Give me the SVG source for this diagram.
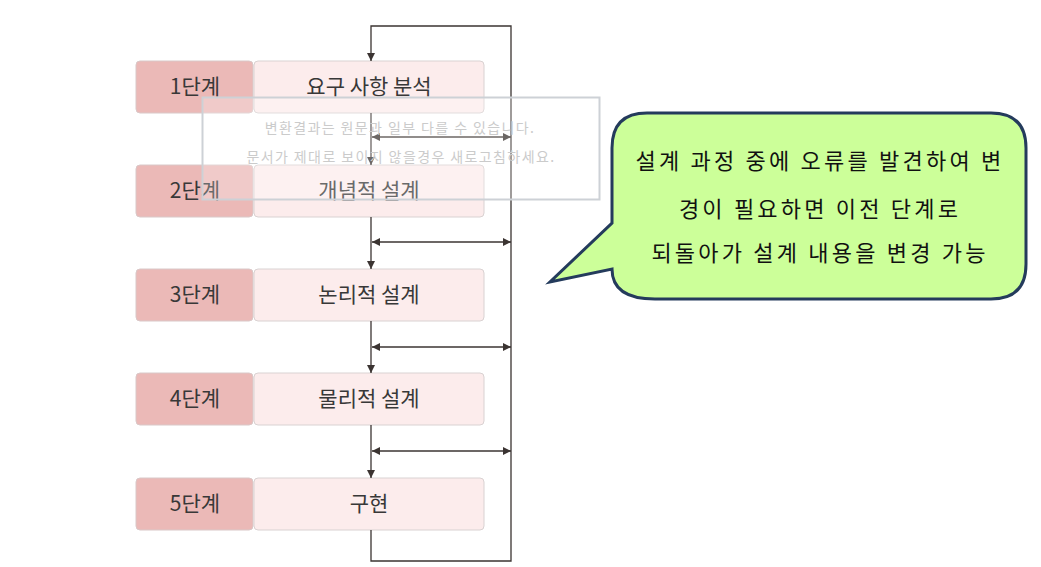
<svg xmlns="http://www.w3.org/2000/svg" width="1041" height="567" viewBox="0 0 1041 567">
<style>
.lbl{fill:#ebb9b7;stroke:#d9c8c8;stroke-width:1}
.box{fill:#fcecec;stroke:#d9d2d2;stroke-width:1}
.t{font-family:"Noto Sans CJK KR","Noto Sans",sans-serif;font-size:21px;fill:#383838;text-anchor:middle}
.c{fill:none;stroke:#3b3432;stroke-width:1.3}
.wm{font-family:"Noto Sans CJK KR","Noto Sans",sans-serif;font-size:14px;fill:#cbcbcb;text-anchor:middle;letter-spacing:1.4px}
.call{font-family:"Noto Sans CJK KR","Noto Sans",sans-serif;font-size:22px;fill:#111;text-anchor:middle;letter-spacing:3.2px}
</style>
<defs>
<marker id="ah" markerUnits="userSpaceOnUse" markerWidth="9" markerHeight="9" refX="8" refY="4" orient="auto-start-reverse">
<path d="M0,0 L8,4 L0,8 z" fill="#3b3432"/>
</marker>
</defs>
<rect width="1041" height="567" fill="#fff"/>

<g id="step1">
<rect class="lbl" x="136" y="61" width="117" height="52" rx="4"/>
<rect class="box" x="254" y="61" width="230" height="52" rx="4"/>
<text class="t" x="195" y="94">1단계</text>
<text class="t" x="369" y="94">요구 사항 분석</text>
</g>
<g id="step2">
<rect class="lbl" x="136" y="165" width="117" height="52" rx="4"/>
<rect class="box" x="254" y="165" width="230" height="52" rx="4"/>
<text class="t" x="195" y="198">2단계</text>
<text class="t" x="369" y="198">개념적 설계</text>
</g>
<g id="step3">
<rect class="lbl" x="136" y="269" width="117" height="52" rx="4"/>
<rect class="box" x="254" y="269" width="230" height="52" rx="4"/>
<text class="t" x="195" y="302">3단계</text>
<text class="t" x="369" y="302">논리적 설계</text>
</g>
<g id="step4">
<rect class="lbl" x="136" y="373" width="117" height="52" rx="4"/>
<rect class="box" x="254" y="373" width="230" height="52" rx="4"/>
<text class="t" x="195" y="406">4단계</text>
<text class="t" x="369" y="406">물리적 설계</text>
</g>
<g id="step5">
<rect class="lbl" x="136" y="478" width="117" height="52" rx="4"/>
<rect class="box" x="254" y="478" width="230" height="52" rx="4"/>
<text class="t" x="195" y="511">5단계</text>
<text class="t" x="369" y="511">구현</text>
</g>

<g id="connectors">
<path class="c" d="M371,530 V561 H511 V26 H371 V61" marker-end="url(#ah)"/>
<path class="c" d="M371,113 V165" marker-end="url(#ah)"/>
<path class="c" d="M371,217 V269" marker-end="url(#ah)"/>
<path class="c" d="M371,321 V373" marker-end="url(#ah)"/>
<path class="c" d="M371,425 V478" marker-end="url(#ah)"/>
<path class="c" d="M372,137 H511" marker-start="url(#ah)" marker-end="url(#ah)"/>
<path class="c" d="M372,242 H511" marker-start="url(#ah)" marker-end="url(#ah)"/>
<path class="c" d="M372,347 H511" marker-start="url(#ah)" marker-end="url(#ah)"/>
<path class="c" d="M372,451 H511" marker-start="url(#ah)" marker-end="url(#ah)"/>
</g>

<g id="watermark">
<rect x="202.5" y="97.5" width="397" height="102" fill="#fff" fill-opacity="0.25" stroke="#cdd1d6" stroke-width="2"/>
<text class="wm" x="400" y="133">변환결과는 원문과 일부 다를 수 있습니다.</text>
<text class="wm" x="401" y="162">문서가 제대로 보이지 않을경우 새로고침하세요.</text>
</g>

<g id="callout">
<path d="M647,113 H991 Q1026,113 1026,148 V264 Q1026,299 991,299 H655 Q612,299 612,269 L550,282 L612,223 V148 Q612,113 647,113 Z" fill="#ccff99" stroke="#243b5c" stroke-width="3" stroke-linejoin="miter"/>
<text class="call" x="820" y="169">설계 과정 중에 오류를 발견하여 변</text>
<text class="call" x="820" y="217">경이 필요하면 이전 단계로</text>
<text class="call" x="820" y="261">되돌아가 설계 내용을 변경 가능</text>
</g>
</svg>
